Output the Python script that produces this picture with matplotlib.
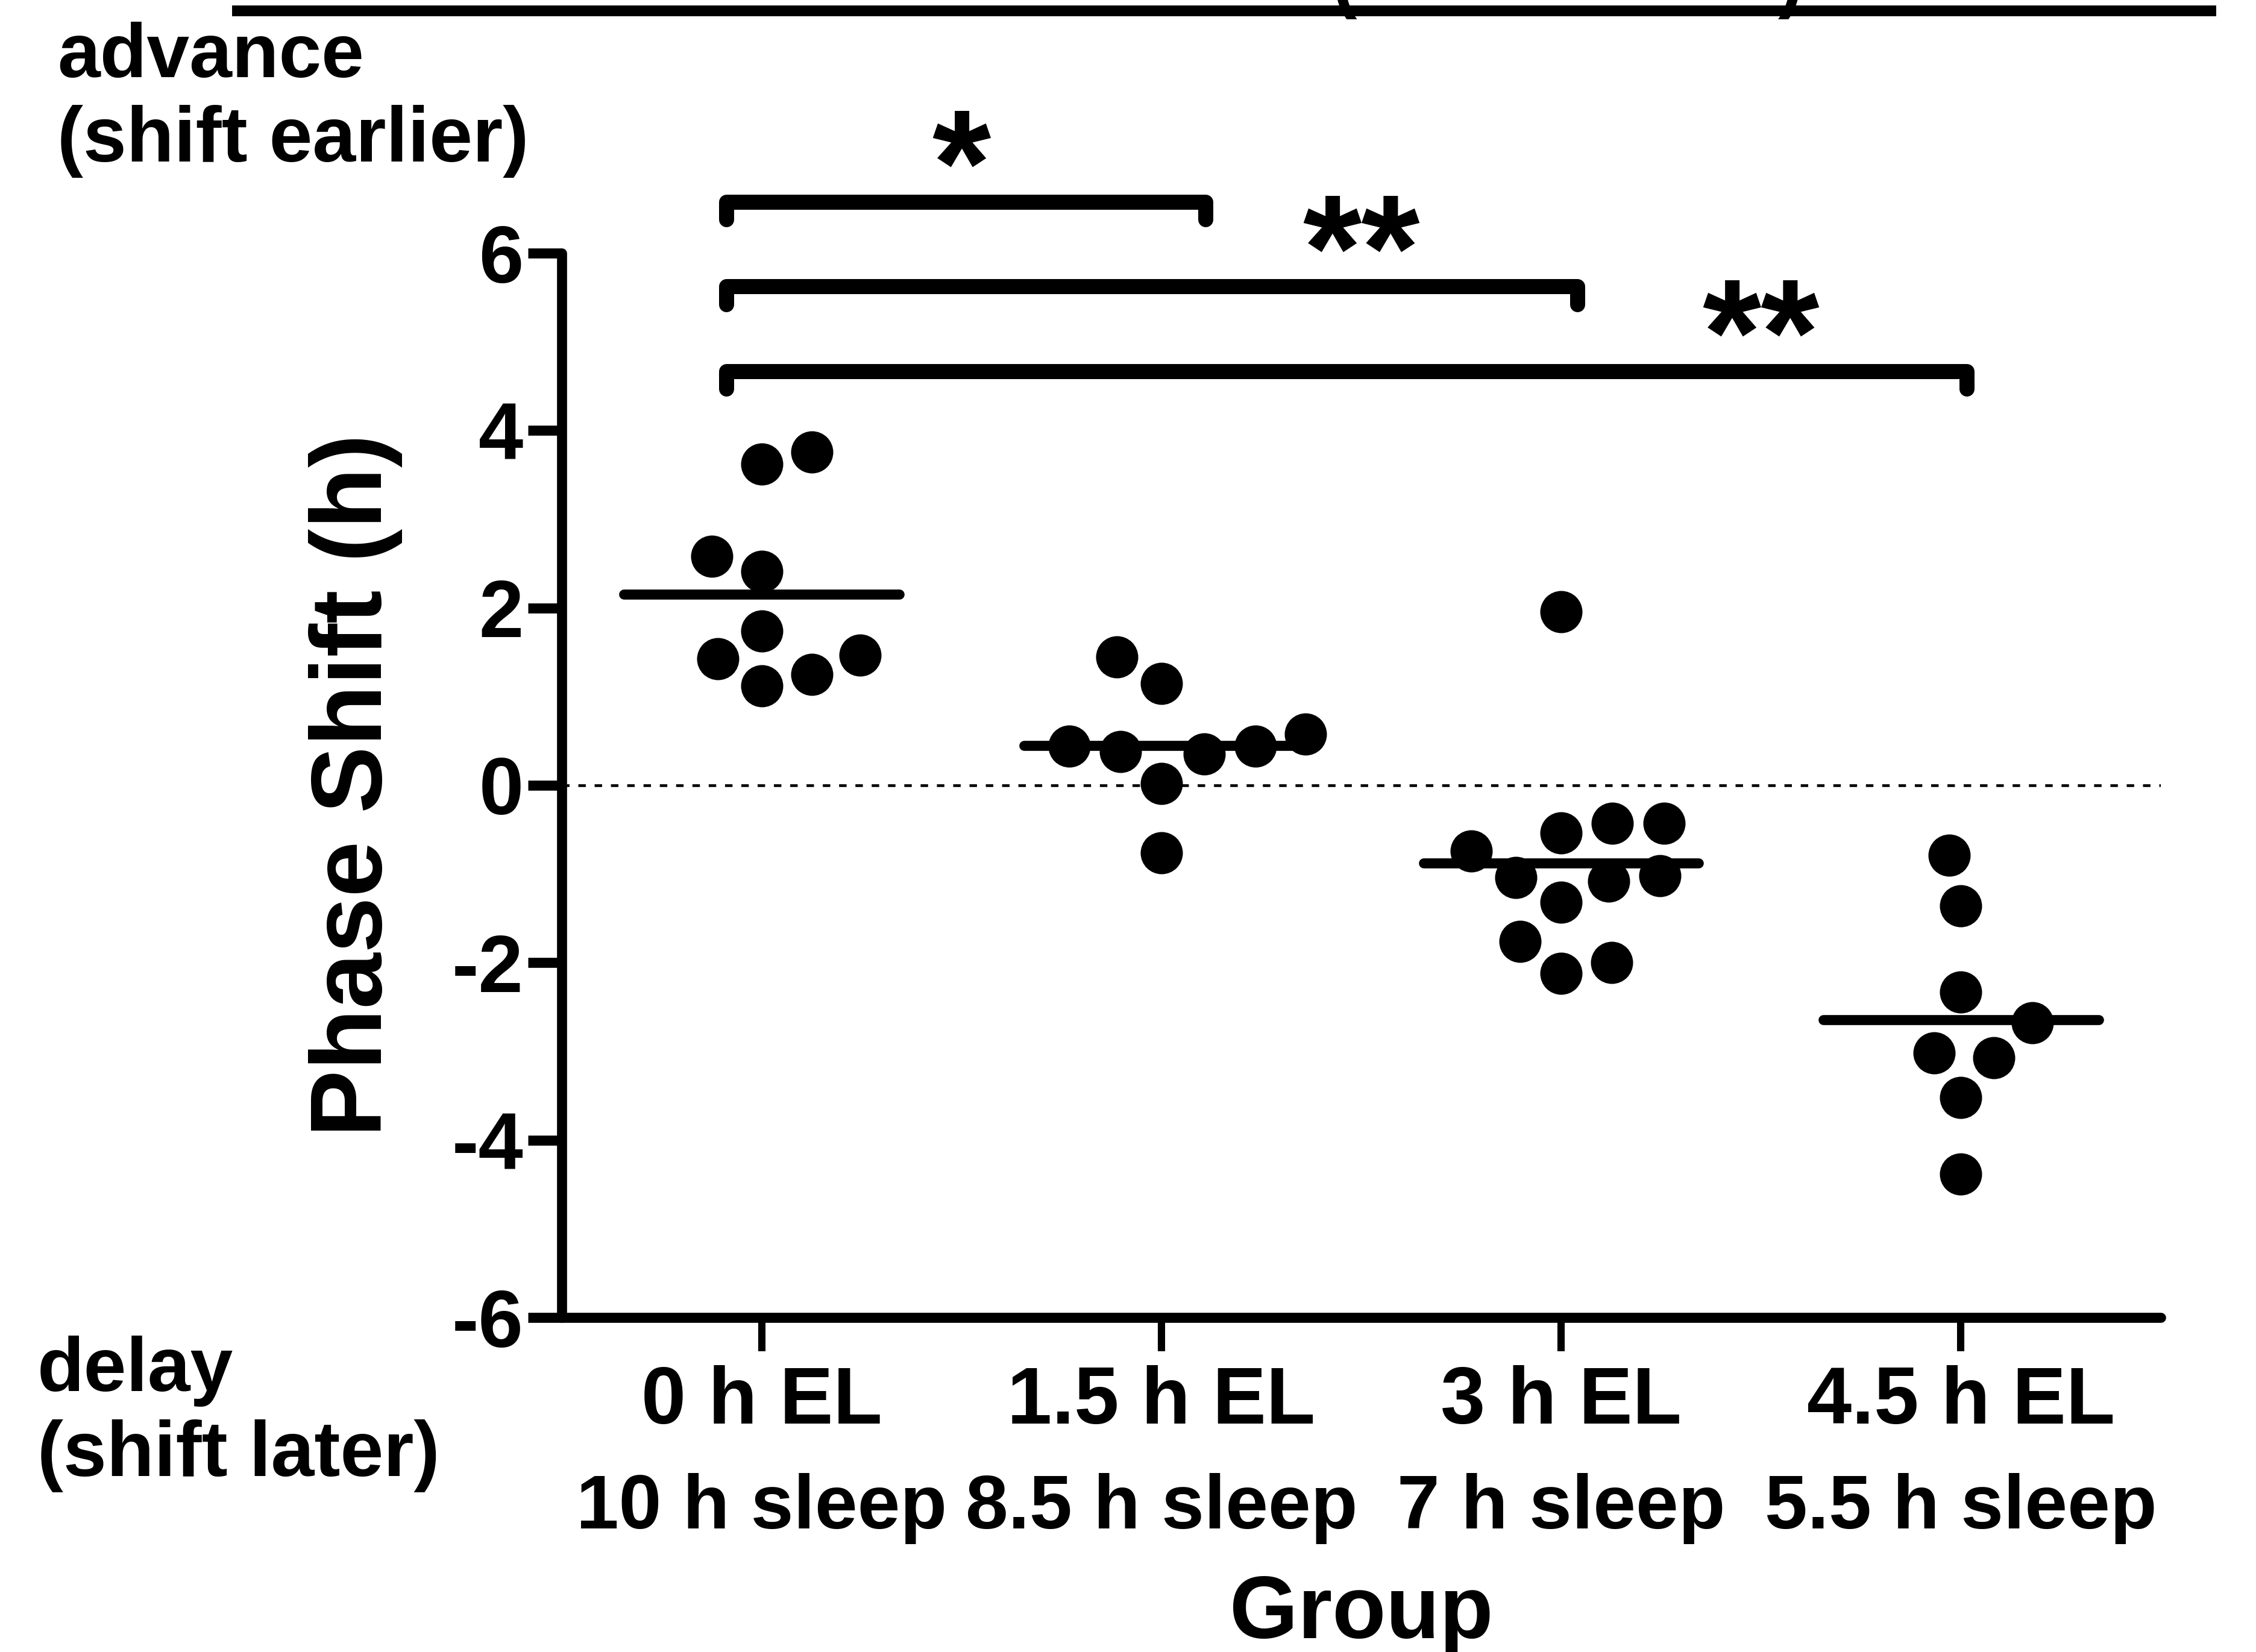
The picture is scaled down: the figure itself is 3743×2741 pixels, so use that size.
import numpy as np
import matplotlib
matplotlib.use('Agg')
from matplotlib import pyplot as plt
from matplotlib.lines import Line2D

# groups and phase shifts (h)
groups = ['0 h EL', '1.5 h EL', '3 h EL', '4.5 h EL']
sleep = ['10 h sleep', '8.5 h sleep', '7 h sleep', '5.5 h sleep']

el_0 = [3.62, 3.76, 2.58, 2.41, 1.74, 1.43, 1.12, 1.25, 1.47]
el_15 = [1.15, 1.45, 0.58, 0.44, 0.35, 0.38, 0.44, 0.02, -0.76]
el_3 = [1.96, -0.43, -0.54, -0.43, -0.74, -1.02, -1.08, -1.32, -1.04, -1.76, -2.12, -2.00]
el_45 = [-0.79, -1.36, -2.33, -2.68, -3.07, -3.02, -3.52, -4.38]
shifts = [el_0, el_15, el_3, el_45]

comparisons = [(0, 1, '*'), (0, 2, '**'), (0, 3, '**')]
yticks = [-6, -4, -2, 0, 2, 4, 6]

plt.rcParams['font.family'] = ['Liberation Sans', 'DejaVu Sans']
plt.rcParams['font.weight'] = 'bold'
plt.rcParams['axes.unicode_minus'] = False

W, H = 3743, 2741
fig = plt.figure(figsize=(W / 300, H / 300), dpi=300)
ax = fig.add_axes([932 / W, 1 - 2186 / H, (3585 - 932) / W, (2186 - 420) / H])
ax.set_xlim(-0.5, 3.5)
ax.set_ylim(-6, 6)

p = ax.transData.transform([[0, 0], [1, 1]])
sx, sy = p[1, 0] - p[0, 0], p[1, 1] - p[0, 1]


def swarm(vals, dmin=86.0):
    # simple beeswarm in pixel space, lowest point first, alternating sides
    vals = np.asarray(vals, float)
    placed = []
    offs = np.zeros(len(vals))
    last = -1
    for i in np.argsort(vals):
        y = vals[i] * sy
        cands = [0.0]
        for px, py in placed:
            dy = abs(py - y)
            if dy < dmin:
                w = np.sqrt(dmin ** 2 - dy ** 2)
                cands += [px + w, px - w]
        ok = [c for c in cands
              if all((c - px) ** 2 + (y - py) ** 2 >= dmin ** 2 - 1e-6 for px, py in placed)]
        ok.sort(key=abs)
        best = ok[0]
        if best != 0 and np.sign(best) == last:
            alt = [c for c in ok if np.sign(c) == -last and abs(c) <= abs(best) * 1.2]
            if alt:
                best = alt[0]
        if best != 0:
            last = np.sign(best)
        placed.append((best, y))
        offs[i] = best / sx
    return offs


ax.axhline(0, color='black', lw=1.1, ls=(0, (2.7, 3.2)), zorder=1)

for i, vals in enumerate(shifts):
    xs = i + swarm(vals)
    ax.plot(xs, vals, 'o', ms=16.8, color='black', mew=0, zorder=3)
    m = np.mean(vals)
    lc = ax.hlines(m, i - 0.344, i + 0.344, color='black', lw=4, zorder=4)
    lc.set_capstyle('round')

# significance brackets
top_level, step, drop = 6.58, 0.955, 0.2
bracket_end = [0.11, 0.04, 0.015]
for k, (a, b, lab) in enumerate(comparisons):
    yb = top_level - k * step
    x0, x1 = a - 0.088, b + bracket_end[k]
    ax.add_line(Line2D([x0, x0, x1, x1], [yb - drop, yb, yb, yb - drop], color='black',
                       lw=6, solid_capstyle='round', solid_joinstyle='round', clip_on=False))
    ax.text(b - 0.5, yb - 0.15, lab, ha='center', va='baseline', fontsize=60,
            fontweight='bold', clip_on=False)

for s in ['top', 'right']:
    ax.spines[s].set_visible(False)
for s in ['left', 'bottom']:
    ax.spines[s].set_linewidth(4)
    ax.spines[s].set_capstyle('round')

ax.set_yticks(yticks)
ax.set_yticklabels([str(t) for t in yticks])
ax.tick_params(axis='y', length=13.5, width=4, pad=1.7, labelsize=32)
ax.set_xticks(range(len(groups)))
ax.set_xticklabels(groups)
ax.tick_params(axis='x', length=13.5, width=2.9, pad=5.5, labelsize=32)

for i, s in enumerate(sleep):
    ax.text(i, -0.198, s, transform=ax.get_xaxis_transform(), ha='center',
            va='baseline', fontsize=30.5, fontweight='bold')

ax.set_ylabel('Phase Shift (h)', fontsize=40, fontweight='bold')
ax.yaxis.set_label_coords(-0.0995, 0.5)
ax.set_xlabel('Group', fontsize=35, fontweight='bold')
ax.xaxis.set_label_coords(0.5, -0.2412)

fig.text(95 / W, 1 - 128 / H, 'advance', fontsize=30.5, fontweight='bold', va='baseline')
fig.text(95 / W, 1 - 268 / H, '(shift earlier)', fontsize=31, fontweight='bold', va='baseline')
fig.text(62 / W, 1 - 2308 / H, 'delay', fontsize=30.5, fontweight='bold', va='baseline')
fig.text(62 / W, 1 - 2449 / H, '(shift later)', fontsize=31, fontweight='bold', va='baseline')

# cropped title remnant along the top edge
fig.add_artist(Line2D([394 / W, 3668 / W], [1 - 18 / H, 1 - 18 / H], color='black', lw=4.3))
fig.text(2231 / W, 1 - 6 / H, '(', fontsize=30, fontweight='bold', ha='center', va='baseline')
fig.text(2971 / W, 1 - 6 / H, ')', fontsize=30, fontweight='bold', ha='center', va='baseline')

fig.savefig('out.png', dpi=300, facecolor='white')
